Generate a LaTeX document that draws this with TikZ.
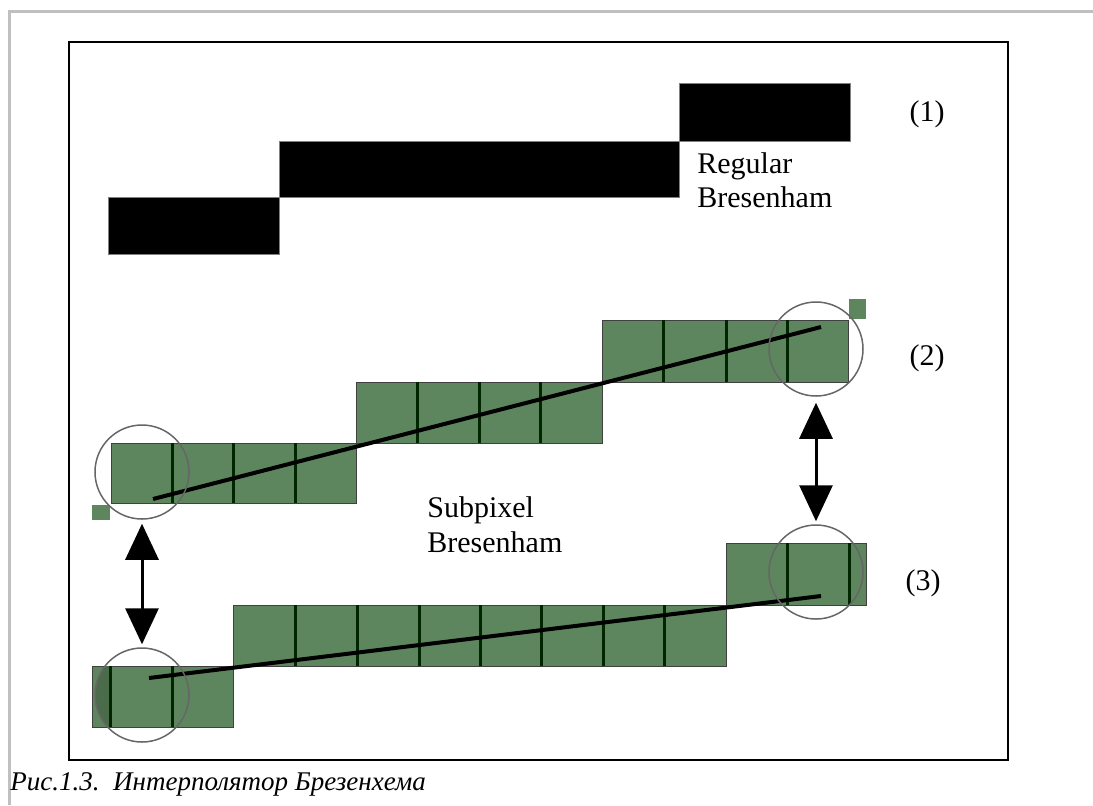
\documentclass[tikz,border=0pt]{standalone}
\usepackage{fontspec}
\setmainfont{Liberation Serif}
\usetikzlibrary{arrows.meta}
\definecolor{cellgreen}{RGB}{94,134,94}
\definecolor{celldark}{RGB}{74,108,74}
\definecolor{framegray}{RGB}{192,192,192}

\begin{document}
\begin{tikzpicture}[x=0.5pt, y=-0.5pt,
    cell/.style={fill=cellgreen, draw=black!75, line width=0.5pt},
    divider/.style={draw=black!85!green, line width=1.5pt},
    bar/.style={fill=black, draw=black!50, line width=0.5pt},
    ring/.style={circle, draw=black!60, line width=0.75pt, minimum size=47pt, inner sep=0pt},
    ray/.style={line width=2pt},
    pointer/.style={{Triangle[width=16.5pt,length=18pt]}-{Triangle[width=16.5pt,length=18pt]}, line width=1.5pt},
    lbl/.style={font=\fontsize{15pt}{18pt}\selectfont, inner sep=0pt, anchor=base west},
    num/.style={font=\fontsize{15pt}{18pt}\selectfont, inner sep=0pt, anchor=base}]
    \useasboundingbox (0,0) rectangle (1093,805);
    % page frame
    \draw[framegray, line width=1.5pt] (9,805) -- (9,11) -- (1093,11);
    \draw[line width=1pt] (69,42) rectangle (1008,760);
    % (1) regular
    \filldraw[bar] (108,197) rectangle (279,254);
    \filldraw[bar] (279,141) rectangle (679,197);
    \filldraw[bar] (679,83) rectangle (850,141);
    \node[lbl] (regA) at (697,173) {Regular};
    \node[lbl] (regB) at (697,207) {Bresenham};
    \node[num] (one) at (927,121) {(1)};
    % (2) subpixel
    \filldraw[cell] (111,443) rectangle (356,503);
    \foreach \x in {172,233,295} \draw[divider] (\x,443) -- (\x,503);
    \filldraw[cell] (356,382) rectangle (602,443);
    \foreach \x in {417,479,540} \draw[divider] (\x,382) -- (\x,443);
    \filldraw[cell] (602,320) rectangle (848,382);
    \foreach \x in {663,726,787} \draw[divider] (\x,320) -- (\x,382);
    \fill[cellgreen] (849,299) rectangle (866,319);
    \fill[cellgreen] (92,505) rectangle (110,520);
    \coordinate (twoL) at (153,499);
    \coordinate (twoR) at (821,327);
    \draw[ray] (twoL) -- (twoR);
    \node[num] (two) at (927,365) {(2)};
    \node[lbl] (subA) at (427,517) {Subpixel};
    \node[lbl] (subB) at (427,552) {Bresenham};
    % (3)
    \filldraw[cell] (92,666) rectangle (233,727);
    \begin{scope}
        \clip (142,695) circle (46.5);
        \fill[celldark] (92,666) rectangle (110,727);
    \end{scope}
    \foreach \x in {110,172} \draw[divider] (\x,666) -- (\x,727);
    \filldraw[cell] (233,605) rectangle (726,666);
    \foreach \x in {295,357,419,480,541,603,664} \draw[divider] (\x,605) -- (\x,666);
    \filldraw[cell] (726,543) rectangle (866,605);
    \foreach \x in {787,849} \draw[divider] (\x,543) -- (\x,605);
    \coordinate (threeL) at (149,678);
    \coordinate (threeR) at (821,596);
    \draw[ray] (threeL) -- (threeR);
    \node[num] (three) at (923,590) {(3)};
    % end points
    \node[ring] (endA) at (142,472) {};
    \node[ring] (endB) at (816,349) {};
    \node[ring] (endC) at (816,572) {};
    \node[ring] (endD) at (142,695) {};
    \draw[pointer, shorten <=2pt, shorten >=1.5pt] (endA) -- (endD);
    \draw[pointer, shorten <=3pt, shorten >=1.5pt] (endB) -- (endC);
    % caption
    \node[lbl, font=\itshape\fontsize{13.5pt}{16pt}\selectfont] (caption) at (10,790) {Рис.1.3.\hspace{0.5em}Интерполятор Брезенхема};
\end{tikzpicture}
\end{document}
